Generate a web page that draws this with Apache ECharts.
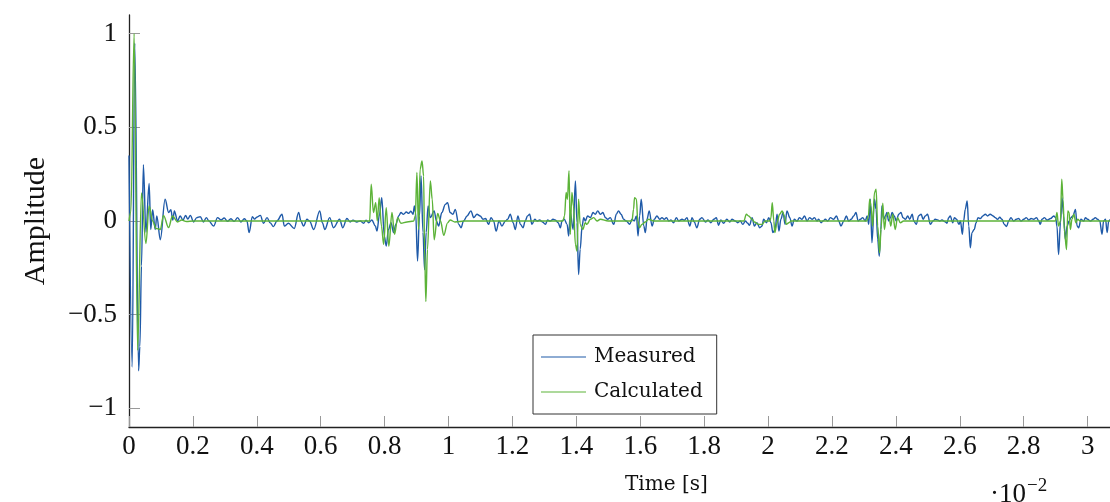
<!DOCTYPE html>
<html>
<head>
<meta charset="utf-8">
<script src="https://cdn.jsdelivr.net/npm/echarts@6/dist/echarts.min.js"></script>
<style>
  html, body { margin: 0; padding: 0; background: #fff; }
  #chart { width: 1110px; height: 502px; }
</style>
</head>
<body>
<div id="chart"></div>
<script>
// time axis is in units of 10^-2 s
var xTicks = [0, 0.2, 0.4, 0.6, 0.8, 1, 1.2, 1.4, 1.6, 1.8, 2, 2.2, 2.4, 2.6, 2.8, 3];
var yTicks = [-1, -0.5, 0, 0.5, 1];
var seriesNames = ["Measured", "Calculated"];

// measured signal: [time, amplitude] at the visible peaks / troughs
var measured = [
  [0.000, 0.35], [0.010, -0.78], [0.018, 0.95], [0.030, -0.80], [0.034, -0.67], [0.039, -0.24],
  [0.045, 0.30], [0.053, -0.06], [0.063, 0.20], [0.068, -0.045], [0.074, 0.06], [0.082, -0.045],
  [0.087, 0.027], [0.098, -0.10], [0.113, 0.116], [0.124, 0.045], [0.131, 0.06], [0.137, 0.005],
  [0.142, 0.054], [0.152, 0], [0.160, 0.027], [0.169, 0.005], [0.177, 0.03], [0.184, 0.01],
  [0.192, 0.03], [0.202, -0.005], [0.212, 0.018], [0.223, 0.023], [0.233, -0.005], [0.242, 0.018],
  [0.250, 0], [0.265, -0.027], [0.277, 0.018], [0.288, 0.005], [0.298, 0.016], [0.308, -0.002],
  [0.319, 0.012], [0.329, -0.002], [0.340, 0.018], [0.350, -0.005], [0.361, 0.012], [0.369, 0],
  [0.376, -0.062], [0.386, 0.023], [0.393, 0.01], [0.400, 0.02], [0.411, 0.03], [0.421, -0.012],
  [0.432, 0.018], [0.442, -0.01], [0.452, -0.03], [0.463, 0], [0.479, 0.036], [0.486, -0.027],
  [0.499, -0.012], [0.517, -0.04], [0.531, 0.045], [0.538, 0], [0.546, -0.027], [0.557, 0.009],
  [0.565, 0], [0.578, -0.045], [0.597, 0.054], [0.605, -0.009], [0.613, -0.045], [0.628, 0.018],
  [0.640, -0.036], [0.659, 0.009], [0.669, -0.036], [0.682, 0.013], [0.692, -0.005], [0.701, 0.004],
  [0.713, -0.005], [0.724, 0], [0.734, -0.012], [0.742, 0.004], [0.750, -0.009], [0.760, 0.005],
  [0.771, -0.027], [0.776, -0.054], [0.784, 0.036], [0.791, 0.125], [0.799, -0.08], [0.805, -0.134],
  [0.812, -0.045], [0.820, -0.009], [0.828, -0.062], [0.835, -0.018], [0.844, 0.027], [0.851, 0.045],
  [0.859, 0.036], [0.868, 0.048], [0.875, 0.041], [0.882, 0.052], [0.889, 0.036], [0.893, 0.08],
  [0.897, 0.045], [0.903, -0.214], [0.909, 0.027], [0.914, 0.24], [0.920, -0.06], [0.925, -0.26],
  [0.930, -0.06], [0.936, 0.08], [0.943, 0.018], [0.955, 0.054], [0.962, 0], [0.969, -0.027],
  [0.979, 0.045], [0.990, 0.089], [0.997, 0.098], [1.005, 0.045], [1.014, 0.036], [1.021, 0.062],
  [1.032, -0.018], [1.039, -0.036], [1.047, 0], [1.058, 0.027], [1.070, 0.054], [1.079, 0.018],
  [1.089, 0.036], [1.099, 0.027], [1.108, 0.009], [1.116, 0.013], [1.125, -0.018], [1.133, 0.018],
  [1.141, 0], [1.149, -0.054], [1.158, 0], [1.167, -0.027], [1.178, 0], [1.185, 0.009],
  [1.193, 0.036], [1.202, -0.009], [1.209, -0.045], [1.217, 0.027], [1.225, -0.018], [1.233, -0.036],
  [1.240, 0], [1.247, 0.027], [1.254, 0.036], [1.261, -0.018], [1.270, 0.009], [1.277, 0],
  [1.285, 0.005], [1.294, -0.005], [1.303, -0.018], [1.310, 0.005], [1.318, 0], [1.327, 0.009],
  [1.334, 0.005], [1.343, -0.009], [1.350, -0.036], [1.355, 0], [1.362, 0.009], [1.371, -0.018],
  [1.376, -0.08], [1.381, 0.045], [1.390, -0.045], [1.397, 0.214], [1.402, -0.009], [1.407, -0.286],
  [1.412, -0.15], [1.418, -0.027], [1.423, 0.018], [1.428, 0], [1.435, 0.027], [1.444, 0.018],
  [1.452, 0.045], [1.459, 0.036], [1.467, 0.054], [1.475, 0.036], [1.483, 0.045], [1.491, 0.018],
  [1.498, 0.009], [1.506, 0.018], [1.517, -0.018], [1.525, 0.036], [1.532, 0.054], [1.540, 0.036],
  [1.548, 0.009], [1.556, 0], [1.567, -0.018], [1.574, 0.009], [1.581, 0], [1.588, 0.027],
  [1.593, -0.08], [1.598, 0.027], [1.603, 0.116], [1.611, -0.027], [1.616, -0.062], [1.621, 0.009],
  [1.628, 0.054], [1.637, -0.027], [1.644, 0.009], [1.652, 0.027], [1.661, 0.009], [1.668, 0.018],
  [1.675, 0.009], [1.682, 0.018], [1.689, 0], [1.696, 0.005], [1.704, -0.009], [1.713, 0.018],
  [1.720, 0], [1.731, 0.009], [1.738, 0.004], [1.746, 0.018], [1.755, -0.027], [1.762, 0.018],
  [1.769, -0.005], [1.777, -0.036], [1.786, 0.009], [1.793, 0.018], [1.804, -0.005], [1.812, 0.005],
  [1.821, -0.009], [1.830, 0.009], [1.838, 0.018], [1.845, -0.023], [1.852, 0.005], [1.861, -0.012],
  [1.871, 0.009], [1.880, -0.005], [1.887, 0.009], [1.897, 0], [1.905, -0.009], [1.913, 0],
  [1.921, -0.018], [1.929, 0], [1.936, -0.012], [1.942, -0.023], [1.950, 0.018], [1.957, -0.027],
  [1.965, -0.009], [1.974, -0.036], [1.981, -0.027], [1.986, 0.009], [1.995, -0.009], [2.002, 0.018],
  [2.009, -0.009], [2.015, -0.062], [2.022, -0.045], [2.028, 0.036], [2.034, -0.054], [2.040, 0.009],
  [2.047, 0.045], [2.053, -0.018], [2.059, 0.054], [2.068, 0.018], [2.075, -0.027], [2.082, 0.009],
  [2.091, 0], [2.098, 0.018], [2.106, 0.009], [2.114, 0.027], [2.122, 0], [2.130, 0.018],
  [2.138, 0.009], [2.145, 0.018], [2.153, 0], [2.158, 0.009], [2.166, -0.009], [2.172, 0],
  [2.179, 0.009], [2.187, 0], [2.195, 0.018], [2.205, 0.009], [2.214, 0.027], [2.221, 0],
  [2.228, -0.027], [2.237, 0], [2.245, 0.027], [2.252, 0], [2.260, 0.009], [2.268, 0.027],
  [2.275, 0.045], [2.282, 0], [2.289, 0.009], [2.296, 0.018], [2.304, 0], [2.310, 0.027],
  [2.315, -0.018], [2.320, 0.116], [2.325, -0.116], [2.333, 0.116], [2.338, 0.062], [2.343, -0.098],
  [2.348, -0.188], [2.353, -0.045], [2.356, 0.08], [2.362, 0.009], [2.367, 0.027], [2.372, 0.045],
  [2.377, 0], [2.383, 0.018], [2.388, 0.045], [2.395, 0.027], [2.401, 0], [2.409, 0.036],
  [2.416, 0.045], [2.422, 0.018], [2.430, 0.009], [2.437, 0.027], [2.443, 0.009], [2.451, 0.036],
  [2.456, 0], [2.464, -0.018], [2.471, 0.027], [2.479, 0.036], [2.485, 0.009], [2.492, 0.027],
  [2.499, 0.036], [2.508, -0.018], [2.516, 0], [2.523, 0.009], [2.531, 0.005], [2.537, 0],
  [2.544, 0.005], [2.555, -0.005], [2.560, -0.012], [2.565, 0.018], [2.570, 0.027], [2.578, -0.009],
  [2.583, 0.018], [2.590, 0.009], [2.597, -0.018], [2.602, 0], [2.608, -0.071], [2.612, 0],
  [2.617, 0.062], [2.623, 0.107], [2.628, -0.027], [2.633, -0.143], [2.638, -0.062], [2.645, -0.045],
  [2.651, -0.009], [2.657, 0.018], [2.664, 0.013], [2.672, 0.027], [2.680, 0.036], [2.687, 0.027],
  [2.695, 0.036], [2.704, 0.027], [2.711, 0.018], [2.718, 0.009], [2.725, 0.02], [2.732, 0.009],
  [2.739, -0.018], [2.746, -0.03], [2.753, 0], [2.760, 0.018], [2.768, 0], [2.777, 0.009],
  [2.784, 0.013], [2.792, 0], [2.800, 0.009], [2.808, 0.018], [2.816, 0.005], [2.823, 0.013],
  [2.831, 0.009], [2.840, 0.018], [2.847, 0], [2.852, -0.018], [2.857, 0.009], [2.865, 0.018],
  [2.873, 0.005], [2.884, 0.013], [2.894, 0.027], [2.900, 0.018], [2.904, -0.027], [2.909, -0.179],
  [2.915, -0.009], [2.920, 0.125], [2.925, 0.027], [2.930, -0.098], [2.936, -0.027], [2.942, 0],
  [2.948, 0.018], [2.954, 0.027], [2.962, 0.062], [2.967, -0.027], [2.972, -0.036], [2.979, 0.009],
  [2.988, 0], [2.993, 0.018], [3.000, 0.009], [3.009, 0], [3.017, 0.009], [3.024, 0.018],
  [3.031, 0.009], [3.038, 0], [3.045, -0.071], [3.050, 0], [3.056, 0.009], [3.061, -0.062],
  [3.066, 0], [3.071, 0.009]
];

// calculated signal: flat between the echoes
var calculated = [
  [0.000, 0], [0.006, 0.05], [0.016, 1.0], [0.027, -0.69], [0.039, 0.15], [0.053, -0.12],
  [0.063, 0.08], [0.074, 0.0], [0.085, -0.04], [0.098, -0.045], [0.108, 0.03], [0.124, -0.035],
  [0.136, 0.027], [0.152, -0.005], [0.165, 0.005], [0.180, -0.003], [0.200, 0],
  [0.753, 0], [0.758, 0.196], [0.765, 0.045], [0.772, 0.098], [0.777, 0], [0.783, 0.125],
  [0.790, -0.027], [0.797, -0.125], [0.805, 0.071], [0.813, -0.134], [0.823, 0.045], [0.831, -0.071],
  [0.841, 0.018], [0.851, -0.012], [0.870, -0.005], [0.891, 0], [0.896, 0.027], [0.901, 0.259],
  [0.906, -0.045], [0.911, 0.277], [0.917, 0.32], [0.922, 0.24], [0.925, -0.152], [0.929, -0.43],
  [0.934, -0.152], [0.943, 0.214], [0.949, 0.116], [0.955, -0.1], [0.966, 0.04], [0.975, 0.0],
  [0.985, -0.077], [0.997, -0.01], [1.005, 0.005], [1.020, -0.005], [1.050, 0],
  [1.358, 0], [1.363, 0.027], [1.368, 0.152], [1.372, 0.116], [1.377, 0.268], [1.381, -0.071],
  [1.386, 0.152], [1.391, 0.08], [1.397, -0.125], [1.402, -0.16], [1.407, 0.116], [1.412, -0.018],
  [1.420, -0.045], [1.428, -0.009], [1.433, -0.018], [1.444, 0.009], [1.454, 0.018], [1.465, 0],
  [1.475, 0.009], [1.500, 0],
  [1.574, 0], [1.579, 0.062], [1.582, 0.125], [1.588, 0.116], [1.592, 0], [1.598, -0.036],
  [1.605, -0.018], [1.616, -0.005], [1.626, 0.009], [1.642, 0],
  [1.924, 0], [1.932, 0.036], [1.939, 0.027], [1.950, 0.009], [1.957, -0.005], [1.970, -0.018],
  [1.981, -0.018], [1.991, 0], [2.005, 0], [2.009, 0.018], [2.013, 0.098], [2.018, 0],
  [2.021, -0.062], [2.028, -0.009], [2.036, 0.036], [2.044, 0.054], [2.051, 0.027], [2.057, -0.018],
  [2.065, -0.009], [2.072, 0],
  [2.309, 0], [2.314, 0.027], [2.318, 0.116], [2.322, 0.08], [2.327, -0.027], [2.333, 0.152],
  [2.338, 0.17], [2.343, -0.027], [2.349, -0.17], [2.354, -0.027], [2.359, 0.095], [2.364, -0.045],
  [2.370, 0.027], [2.377, 0.045], [2.384, -0.027], [2.390, 0.036], [2.398, -0.045], [2.405, 0.018],
  [2.414, -0.009], [2.424, 0],
  [2.899, 0], [2.904, 0.045], [2.909, -0.027], [2.915, 0], [2.919, 0.223], [2.923, 0.116],
  [2.927, -0.045], [2.934, -0.152], [2.938, 0.054], [2.942, 0.045], [2.946, -0.045], [2.951, 0.009],
  [2.957, 0.036], [2.963, -0.009], [2.969, 0.009], [2.977, 0], [3.071, 0]
];

var myChart = echarts.init(document.getElementById("chart"));

var tickFont = "'Liberation Serif', 'DejaVu Serif', serif";
var textFont = "'DejaVu Serif', serif";

function minusLabel(v) {
  return v < 0 ? "\u2212" + (-v) : String(v);
}

var option = {
  backgroundColor: "#fff",
  animation: false,
  grid: { left: 129, right: 0, top: 15, bottom: 75 },
  legend: {
    data: seriesNames,
    orient: "vertical",
    left: 533,
    top: 335,
    padding: [12, 14, 12, 8],
    itemWidth: 45,
    itemHeight: 14,
    itemGap: 15,
    icon: "path://M0,0 L45,0 L45,1 L0,1 Z",
    borderColor: "#333",
    borderWidth: 1,
    backgroundColor: "#fff",
    textStyle: { fontFamily: textFont, fontSize: 20, color: "#111", padding: [0, 0, 0, 3] }
  },
  xAxis: {
    type: "value",
    min: 0,
    max: 3.07,
    axisLine: { onZero: false, lineStyle: { color: "#222", width: 1.3 } },
    axisTick: { inside: true, length: 11, customValues: xTicks, lineStyle: { color: "#999" } },
    axisLabel: {
      customValues: xTicks,
      margin: 6,
      fontFamily: tickFont,
      fontSize: 27,
      color: "#111",
      formatter: minusLabel
    },
    splitLine: { show: false }
  },
  yAxis: {
    type: "value",
    min: -1.1,
    max: 1.1,
    name: "Amplitude",
    nameLocation: "middle",
    nameGap: 78,
    nameTextStyle: { fontFamily: tickFont, fontSize: 30, color: "#111" },
    axisLine: { show: true, onZero: false, lineStyle: { color: "#222", width: 1.3 } },
    axisTick: { show: true, inside: true, length: 11, customValues: yTicks, lineStyle: { color: "#999" } },
    axisLabel: {
      customValues: yTicks,
      margin: 12,
      fontFamily: tickFont,
      fontSize: 27,
      color: "#111",
      formatter: minusLabel
    },
    splitLine: { show: false }
  },
  graphic: [
    {
      type: "text",
      left: 625,
      top: 475,
      style: { text: "Time [s]", font: "20px " + textFont, fill: "#111" }
    },
    {
      type: "text",
      left: 990,
      top: 481,
      style: { text: "\u00b710", font: "27px " + tickFont, fill: "#111" }
    },
    {
      type: "text",
      left: 1027,
      top: 477,
      style: { text: "\u22122", font: "19px " + tickFont, fill: "#111" }
    }
  ],
  series: [
    {
      name: seriesNames[0],
      type: "line",
      data: measured,
      symbol: "none",
      smooth: 0.35,
      smoothMonotone: "x",
      lineStyle: { color: "#1f5aa8", width: 1.4 },
      itemStyle: { color: "#1f5aa8" },
      z: 2
    },
    {
      name: seriesNames[1],
      type: "line",
      data: calculated,
      symbol: "none",
      smooth: 0.35,
      smoothMonotone: "x",
      lineStyle: { color: "#5cb338", width: 1.4 },
      itemStyle: { color: "#5cb338" },
      z: 3
    }
  ]
};

myChart.setOption(option);
</script>
</body>
</html>
